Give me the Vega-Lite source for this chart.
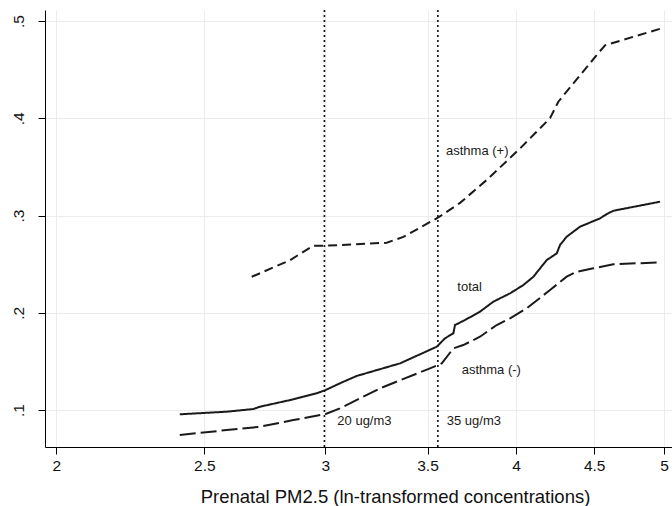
{
  "$schema": "https://vega.github.io/schema/vega-lite/v6.json",
  "autosize": {"type": "none"},
  "padding": {"left": 45, "top": 10, "right": 0, "bottom": 59},
  "width": 627,
  "height": 437,
  "background": "white",
  "config": {
    "view": {"stroke": null},
    "font": "Liberation Sans",
    "axis": {
      "domainColor": "#000000",
      "tickColor": "#000000",
      "labelColor": "#111111",
      "titleColor": "#111111",
      "gridColor": "#ececec",
      "gridWidth": 1,
      "tickSize": 7,
      "labelFont": "Liberation Sans",
      "titleFont": "Liberation Sans",
      "labelFontSize": 15.5,
      "titleFontWeight": "normal"
    }
  },
  "layer": [
    {
      "data": {"values": [{"pm": 2.996}, {"pm": 3.555}]},
      "mark": {"type": "rule", "color": "#111111", "strokeWidth": 1.6, "strokeDash": [2, 3]},
      "encoding": {
        "x": {
          "field": "pm", "type": "quantitative",
          "scale": {"type": "log", "domain": [1.966, 5.06], "nice": false, "zero": false},
          "axis": {
            "values": [2, 2.5, 3, 3.5, 4, 4.5, 5],
            "format": "~g",
            "title": "Prenatal PM2.5 (ln-transformed concentrations)",
            "titleFontSize": 18.5,
            "titleX": 350,
            "titleY": 55,
            "titleAlign": "center",
            "titleBaseline": "alphabetic",
            "labelPadding": 4,
            "grid": true
          }
        }
      }
    },
    {
      "data": {"values": [
        {"series": "asthma (+)", "pm": 2.685, "risk": 0.237},
        {"series": "asthma (+)", "pm": 2.844, "risk": 0.254},
        {"series": "asthma (+)", "pm": 2.946, "risk": 0.269},
        {"series": "asthma (+)", "pm": 3.006, "risk": 0.269},
        {"series": "asthma (+)", "pm": 3.291, "risk": 0.272},
        {"series": "asthma (+)", "pm": 3.375, "risk": 0.278},
        {"series": "asthma (+)", "pm": 3.557, "risk": 0.298},
        {"series": "asthma (+)", "pm": 3.676, "risk": 0.313},
        {"series": "asthma (+)", "pm": 3.836, "risk": 0.338},
        {"series": "asthma (+)", "pm": 4.024, "risk": 0.369},
        {"series": "asthma (+)", "pm": 4.210, "risk": 0.400},
        {"series": "asthma (+)", "pm": 4.263, "risk": 0.417},
        {"series": "asthma (+)", "pm": 4.517, "risk": 0.465},
        {"series": "asthma (+)", "pm": 4.574, "risk": 0.475},
        {"series": "asthma (+)", "pm": 4.970, "risk": 0.492},

        {"series": "total", "pm": 2.409, "risk": 0.0956},
        {"series": "total", "pm": 2.585, "risk": 0.0983},
        {"series": "total", "pm": 2.691, "risk": 0.1010},
        {"series": "total", "pm": 2.718, "risk": 0.1034},
        {"series": "total", "pm": 2.859, "risk": 0.1110},
        {"series": "total", "pm": 2.961, "risk": 0.1172},
        {"series": "total", "pm": 3.002, "risk": 0.1206},
        {"series": "total", "pm": 3.067, "risk": 0.1275},
        {"series": "total", "pm": 3.145, "risk": 0.1350},
        {"series": "total", "pm": 3.358, "risk": 0.1480},
        {"series": "total", "pm": 3.549, "risk": 0.1651},
        {"series": "total", "pm": 3.593, "risk": 0.1737},
        {"series": "total", "pm": 3.639, "risk": 0.1789},
        {"series": "total", "pm": 3.648, "risk": 0.1874},
        {"series": "total", "pm": 3.703, "risk": 0.1925},
        {"series": "total", "pm": 3.788, "risk": 0.2011},
        {"series": "total", "pm": 3.865, "risk": 0.2114},
        {"series": "total", "pm": 3.964, "risk": 0.2200},
        {"series": "total", "pm": 4.044, "risk": 0.2285},
        {"series": "total", "pm": 4.106, "risk": 0.2371},
        {"series": "total", "pm": 4.189, "risk": 0.2542},
        {"series": "total", "pm": 4.253, "risk": 0.2611},
        {"series": "total", "pm": 4.274, "risk": 0.2697},
        {"series": "total", "pm": 4.317, "risk": 0.2782},
        {"series": "total", "pm": 4.405, "risk": 0.2885},
        {"series": "total", "pm": 4.540, "risk": 0.2971},
        {"series": "total", "pm": 4.586, "risk": 0.3015},
        {"series": "total", "pm": 4.632, "risk": 0.3049},
        {"series": "total", "pm": 4.970, "risk": 0.3142},

        {"series": "asthma (-)", "pm": 2.409, "risk": 0.0743},
        {"series": "asthma (-)", "pm": 2.585, "risk": 0.0794},
        {"series": "asthma (-)", "pm": 2.718, "risk": 0.0828},
        {"series": "asthma (-)", "pm": 2.859, "risk": 0.0897},
        {"series": "asthma (-)", "pm": 3.002, "risk": 0.0959},
        {"series": "asthma (-)", "pm": 3.067, "risk": 0.1017},
        {"series": "asthma (-)", "pm": 3.258, "risk": 0.1223},
        {"series": "asthma (-)", "pm": 3.513, "risk": 0.1429},
        {"series": "asthma (-)", "pm": 3.576, "risk": 0.1480},
        {"series": "asthma (-)", "pm": 3.639, "risk": 0.1634},
        {"series": "asthma (-)", "pm": 3.694, "risk": 0.1668},
        {"series": "asthma (-)", "pm": 3.788, "risk": 0.1754},
        {"series": "asthma (-)", "pm": 3.885, "risk": 0.1874},
        {"series": "asthma (-)", "pm": 3.964, "risk": 0.1943},
        {"series": "asthma (-)", "pm": 4.065, "risk": 0.2046},
        {"series": "asthma (-)", "pm": 4.210, "risk": 0.2234},
        {"series": "asthma (-)", "pm": 4.317, "risk": 0.2371},
        {"series": "asthma (-)", "pm": 4.383, "risk": 0.2422},
        {"series": "asthma (-)", "pm": 4.494, "risk": 0.2457},
        {"series": "asthma (-)", "pm": 4.632, "risk": 0.2498},
        {"series": "asthma (-)", "pm": 4.970, "risk": 0.2519}
      ]},
      "mark": {"type": "line", "color": "#1a1a1a", "strokeWidth": 2},
      "encoding": {
        "x": {"field": "pm", "type": "quantitative"},
        "y": {
          "field": "risk", "type": "quantitative",
          "scale": {"domain": [0.062, 0.5113], "nice": false, "zero": false},
          "axis": {
            "values": [0.1, 0.2, 0.3, 0.4, 0.5],
            "labelExpr": "replace(format(datum.value, '.1f'), '0.', '.')",
            "labelAngle": -90,
            "labelPadding": 12,
            "title": null,
            "grid": true
          }
        },
        "detail": {"field": "series"},
        "strokeDash": {
          "field": "series", "type": "nominal",
          "scale": {"domain": ["total", "asthma (+)", "asthma (-)"], "range": [[1, 0], [9, 5], [16, 5]]},
          "legend": null
        }
      }
    },
    {
      "data": {"values": [
        {"label": "asthma (+)", "pm": 3.599, "risk": 0.3666},
        {"label": "total", "pm": 3.661, "risk": 0.2262},
        {"label": "asthma (-)", "pm": 3.685, "risk": 0.1411},
        {"label": "20 ug/m3", "pm": 3.055, "risk": 0.0887},
        {"label": "35 ug/m3", "pm": 3.603, "risk": 0.0887}
      ]},
      "mark": {"type": "text", "align": "left", "baseline": "middle", "fontSize": 13, "font": "Liberation Sans", "color": "#1a1a1a"},
      "encoding": {
        "x": {"field": "pm", "type": "quantitative"},
        "y": {"field": "risk", "type": "quantitative"},
        "text": {"field": "label"}
      }
    }
  ]
}
